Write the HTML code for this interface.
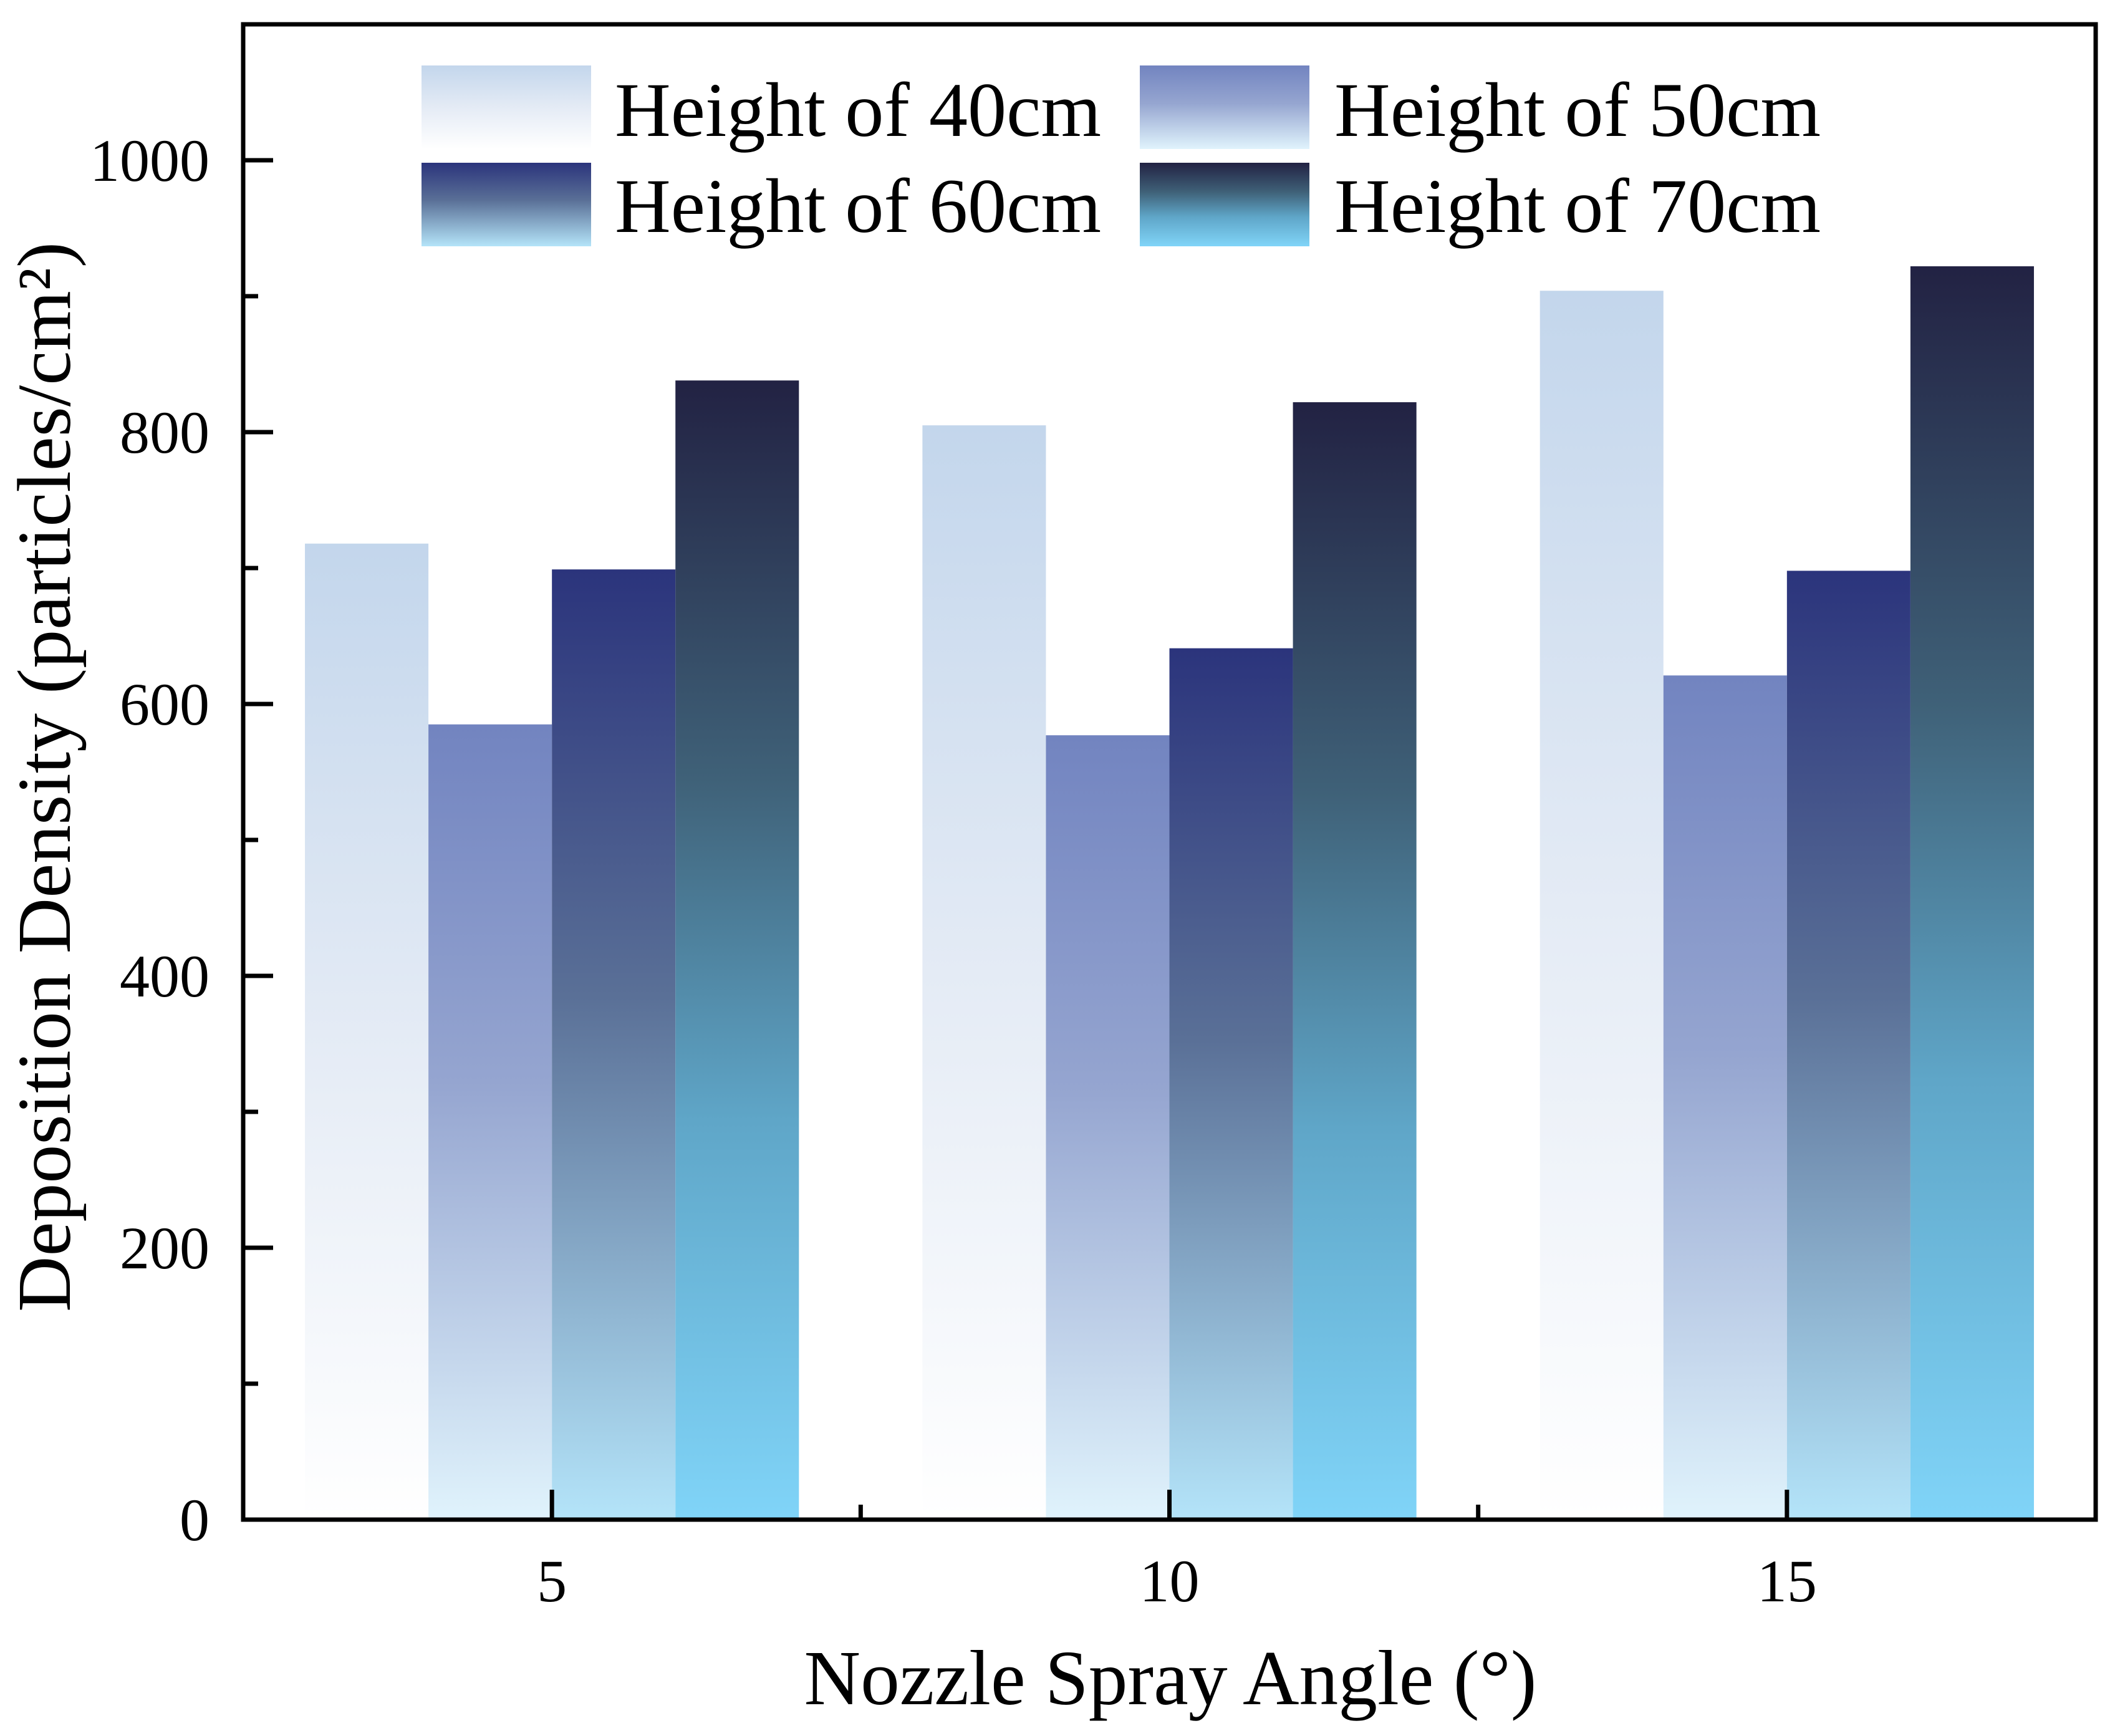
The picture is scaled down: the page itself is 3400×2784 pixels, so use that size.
<!DOCTYPE html>
<html>
<head>
<meta charset="utf-8">
<style>
html,body{margin:0;padding:0;background:#fff;}
svg{display:block;}
text{font-family:"Liberation Serif",serif;fill:#000;}
</style>
</head>
<body>
<svg id="chart" width="3400" height="2784" viewBox="0 0 3400 2784" xmlns="http://www.w3.org/2000/svg">
<defs>
  <linearGradient id="g40" x1="0" y1="0" x2="0" y2="1">
    <stop offset="0" stop-color="#c3d6ec"/><stop offset="0.5" stop-color="#e4ebf5"/><stop offset="1" stop-color="#ffffff"/>
  </linearGradient>
  <linearGradient id="g50" x1="0" y1="0" x2="0" y2="1">
    <stop offset="0" stop-color="#7284c0"/><stop offset="0.45" stop-color="#95a5d0"/><stop offset="1" stop-color="#e0f3fc"/>
  </linearGradient>
  <linearGradient id="g60" x1="0" y1="0" x2="0" y2="1">
    <stop offset="0" stop-color="#2b347c"/><stop offset="0.45" stop-color="#5a7097"/><stop offset="1" stop-color="#b4e4f9"/>
  </linearGradient>
  <linearGradient id="g70" x1="0" y1="0" x2="0" y2="1">
    <stop offset="0" stop-color="#222243"/><stop offset="0.35" stop-color="#3f6178"/><stop offset="0.65" stop-color="#5fa6c8"/><stop offset="1" stop-color="#80d4f8"/>
  </linearGradient>
</defs>
<g id="bars"></g>
<g id="axes"></g>
<g id="legend"></g>
<text x="1877" y="2733" font-size="125" text-anchor="middle" textLength="1175" lengthAdjust="spacingAndGlyphs">Nozzle Spray Angle (°)</text>
<text transform="translate(112,1246) rotate(-90)" x="0" y="0" font-size="122" text-anchor="middle" textLength="1716" lengthAdjust="spacingAndGlyphs">Deposition Density (particles/cm²)</text>
</svg>
<script>
const categories = [5, 10, 15];
const seriesNames = ["Height of 40cm", "Height of 50cm", "Height of 60cm", "Height of 70cm"];
const h40 = [718, 805, 904];
const h50 = [585, 577, 621];
const h60 = [699, 641, 698];
const h70 = [838, 822, 922];
const yTicks = [0, 200, 400, 600, 800, 1000];
const yMinorTicks = [100, 300, 500, 700, 900];
const xMinorTicks = [7.5, 12.5];

const NS = "http://www.w3.org/2000/svg";
const L = 390, R = 3361, T = 39, B = 2437;
const xMin = 2.5, xMax = 17.5, yMin = 0, yMax = 1100;
function xs(v){ return L + (v - xMin) / (xMax - xMin) * (R - L); }
function ys(v){ return B - (v - yMin) / (yMax - yMin) * (B - T); }
function mk(tag, attrs, parent){
  const e = document.createElementNS(NS, tag);
  for (const k in attrs) e.setAttribute(k, attrs[k]);
  parent.appendChild(e);
  return e;
}
const series = [h40, h50, h60, h70];
const grads = ["url(#g40)", "url(#g50)", "url(#g60)", "url(#g70)"];
const barsG = document.getElementById("bars");
categories.forEach((c, ci) => {
  series.forEach((s, si) => {
    const x0 = xs(c - 2 + si), x1 = xs(c - 1 + si);
    const r = mk("rect", {x: x0, y: ys(s[ci]), width: x1 - x0, height: ys(0) - ys(s[ci]), fill: grads[si]}, barsG);
    
    
  });
});
const ax = document.getElementById("axes");
const frame = mk("rect", {x: L, y: T, width: R - L, height: B - T, fill: "none", stroke: "#000", "stroke-width": 7}, ax);


yTicks.forEach(v => {
  const t = mk("line", {x1: L, x2: L + 48, y1: ys(v), y2: ys(v), stroke: "#000", "stroke-width": 7}, ax);
  
  
  const lb = mk("text", {x: 336, y: ys(v) + 33, "font-size": 96, "text-anchor": "end"}, ax);
  lb.textContent = v;
  
  
});
yMinorTicks.forEach(v => {
  const t = mk("line", {x1: L, x2: L + 24, y1: ys(v), y2: ys(v), stroke: "#000", "stroke-width": 7}, ax);
  
  
});
categories.forEach(c => {
  const t = mk("line", {x1: xs(c), x2: xs(c), y1: B, y2: B - 48, stroke: "#000", "stroke-width": 7}, ax);
  
  
  const lb = mk("text", {x: xs(c), y: 2568, "font-size": 96, "text-anchor": "middle"}, ax);
  lb.textContent = c;
  
  
});
xMinorTicks.forEach(v => {
  const t = mk("line", {x1: xs(v), x2: xs(v), y1: B, y2: B - 24, stroke: "#000", "stroke-width": 7}, ax);
  
  
});
const lg = document.getElementById("legend");
const boxX = [676, 1828], txtX = [986, 2140], boxY = [105, 261], baseY = [218, 372];
seriesNames.forEach((n, i) => {
  const col = i % 2, row = Math.floor(i / 2);
  const b = mk("rect", {x: boxX[col], y: boxY[row], width: 272, height: 134, fill: grads[i]}, lg);
  
  
  const t = mk("text", {x: txtX[col], y: baseY[row], "font-size": 124, textLength: 780, lengthAdjust: "spacingAndGlyphs"}, lg);
  t.textContent = n;
  
  
});
</script>
</body>
</html>
